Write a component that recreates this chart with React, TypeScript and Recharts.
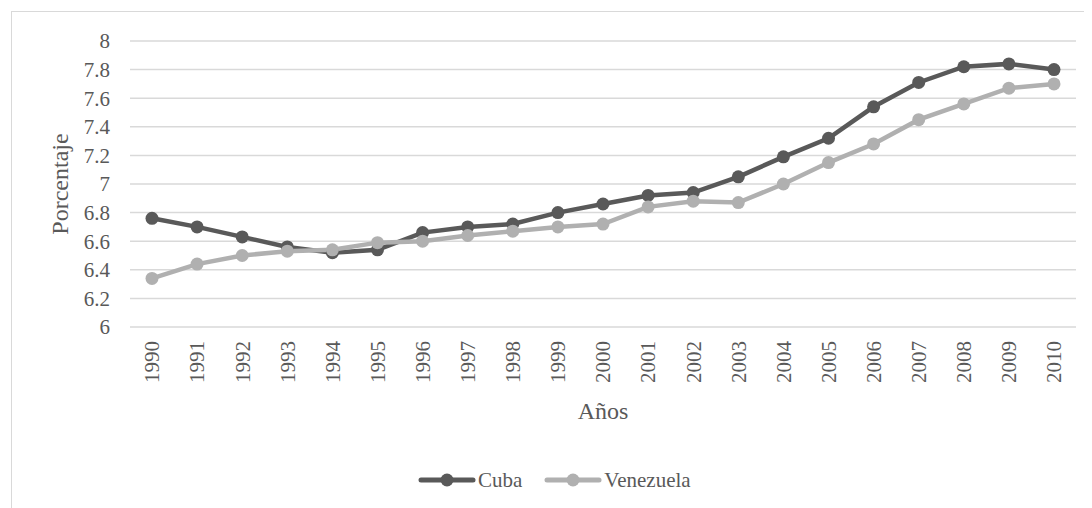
import { LineChart, Line, XAxis, YAxis, CartesianGrid } from "recharts";

const years = [
  "1990", "1991", "1992", "1993", "1994", "1995", "1996", "1997", "1998", "1999", "2000",
  "2001", "2002", "2003", "2004", "2005", "2006", "2007", "2008", "2009", "2010",
];
const cuba = [
  6.76, 6.7, 6.63, 6.56, 6.52, 6.54, 6.66, 6.7, 6.72, 6.8, 6.86,
  6.92, 6.94, 7.05, 7.19, 7.32, 7.54, 7.71, 7.82, 7.84, 7.8,
];
const venezuela = [
  6.34, 6.44, 6.5, 6.53, 6.54, 6.59, 6.6, 6.64, 6.67, 6.7, 6.72,
  6.84, 6.88, 6.87, 7.0, 7.15, 7.28, 7.45, 7.56, 7.67, 7.7,
];
const yTicks = [6, 6.2, 6.4, 6.6, 6.8, 7, 7.2, 7.4, 7.6, 7.8, 8];
const seriesNames = ["Cuba", "Venezuela"];

const data = years.map((year, i) => ({ year, Cuba: cuba[i], Venezuela: venezuela[i] }));

const FONT = '"Liberation Serif", "DejaVu Serif", serif';
const TEXT = "#595959";
const DARK = "#595959";
const LIGHT = "#b0b0b0";
const colors = [DARK, LIGHT];

const YearTick = ({ x, y, payload }: any) => (
  <text
    x={x}
    y={y}
    dy="0.35em"
    transform={`rotate(-90, ${x}, ${y})`}
    textAnchor="end"
    fill={TEXT}
    style={{ fontSize: 21, fontFamily: FONT }}
  >
    {payload.value}
  </text>
);

const ValueTick = ({ x, y, payload }: any) => (
  <text x={x} y={y} dy="0.35em" textAnchor="end" fill={TEXT} style={{ fontSize: 21, fontFamily: FONT }}>
    {payload.value}
  </text>
);

const YTitle = ({ viewBox }: any) => {
  const cx = viewBox.x + 52;
  const cy = viewBox.y + viewBox.height / 2;
  return (
    <text
      x={cx}
      y={cy}
      dy="0.35em"
      transform={`rotate(-90, ${cx}, ${cy})`}
      textAnchor="middle"
      fill={TEXT}
      style={{ fontSize: 24, fontFamily: FONT }}
    >
      Porcentaje
    </text>
  );
};

const LegendItems = () => (
  <div style={{ display: "flex", alignItems: "center", fontFamily: FONT, fontSize: 21, color: TEXT, lineHeight: "24px" }}>
    {seriesNames.map((name, i) => (
      <div key={name} style={{ display: "flex", alignItems: "center", marginRight: i === 0 ? 22 : 0 }}>
        <svg width={58} height={16} style={{ marginRight: 2 }}>
          <line x1={3} y1={8} x2={55} y2={8} stroke={colors[i]} strokeWidth={5} strokeLinecap="round" />
          <circle cx={29} cy={8} r={6.5} fill={colors[i]} />
        </svg>
        <span>{name}</span>
      </div>
    ))}
  </div>
);

export default function App() {
  return (
    <div style={{ position: "relative", width: 1084, height: 500, overflow: "hidden", background: "#fff" }}>
      <div
        style={{
          position: "absolute",
          left: 3,
          top: 3,
          width: 1200,
          height: 600,
          border: "1px solid #d9d9d9",
        }}
      />
      <div style={{ position: "absolute", left: 0, top: 0 }}>
        <LineChart width={1084} height={500} data={data} margin={{ top: 33, right: 16, left: 0, bottom: 86 }}>
          <CartesianGrid vertical={false} stroke="#d9d9d9" strokeWidth={1.5} />
          <XAxis
            dataKey="year"
            height={95}
            padding={{ left: 22, right: 22 }}
            tickLine={false}
            axisLine={false}
            tickSize={0}
            tickMargin={14}
            interval={0}
            tick={<YearTick />}
            label={{
              value: "Años",
              position: "insideBottom",
              offset: 3,
              fill: TEXT,
              style: { fontSize: 24, fontFamily: FONT },
            }}
          />
          <YAxis
            width={122}
            domain={[6, 8]}
            ticks={yTicks}
            interval={0}
            tickLine={false}
            axisLine={false}
            tickSize={6}
            tickMargin={14}
            tick={<ValueTick />}
            label={<YTitle />}
          />
          <Line
            type="linear"
            dataKey="Cuba"
            stroke={DARK}
            strokeWidth={4.5}
            dot={{ r: 6.5, fill: DARK, stroke: "none" }}
            activeDot={false}
            isAnimationActive={false}
          />
          <Line
            type="linear"
            dataKey="Venezuela"
            stroke={LIGHT}
            strokeWidth={4.5}
            dot={{ r: 6.5, fill: LIGHT, stroke: "none" }}
            activeDot={false}
            isAnimationActive={false}
          />
        </LineChart>
      </div>
      <div style={{ position: "absolute", left: 410, top: 460 }}>
        <LegendItems />
      </div>
    </div>
  );
}
